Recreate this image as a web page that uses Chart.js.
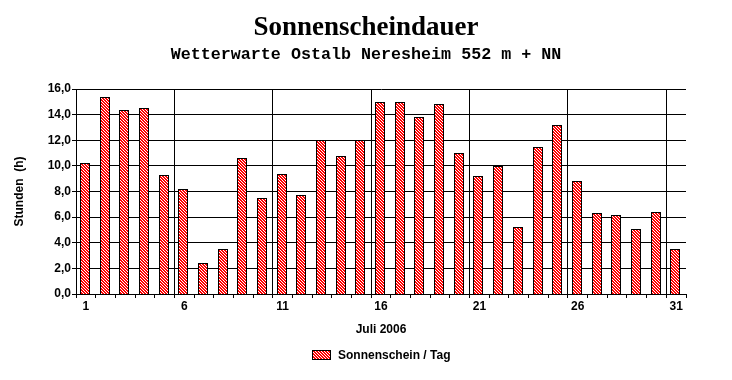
<!DOCTYPE html>
<html>
<head>
<meta charset="utf-8">
<script src="https://cdn.jsdelivr.net/npm/chart.js@4/dist/chart.umd.min.js"></script>
<style>
  html, body { margin: 0; padding: 0; background: #fff; }
  #wrap { width: 732px; height: 380px; }
</style>
</head>
<body>
<div id="wrap"><canvas id="chart" width="732" height="380"></canvas></div>
<script>
// Tage im Juli 2006
const days = ['1','2','3','4','5','6','7','8','9','10','11','12','13','14','15','16',
              '17','18','19','20','21','22','23','24','25','26','27','28','29','30','31'];
// Sonnenscheindauer in Stunden pro Tag
const sunHours = [10.2, 15.4, 14.4, 14.5, 9.3, 8.2, 2.4, 3.5, 10.6, 7.5,
                  9.4, 7.7, 12.0, 10.8, 12.0, 15.0, 15.0, 13.8, 14.8, 11.0,
                  9.2, 10.0, 5.2, 11.5, 13.2, 8.8, 6.3, 6.2, 5.1, 6.4, 3.5];
const yTicks = [0, 2, 4, 6, 8, 10, 12, 14, 16];

const titleText = 'Sonnenscheindauer';
const subtitleText = 'Wetterwarte Ostalb Neresheim 552 m + NN';
const yTitle = 'Stunden  (h)';
const xTitle = 'Juli 2006';
const seriesLabel = 'Sonnenschein / Tag';

// red / white hatch pattern
function makeHatch() {
    const n = 3;
    const c = document.createElement('canvas');
    c.width = n; c.height = n;
    const g = c.getContext('2d');
    const img = g.createImageData(n, n);
    for (let y = 0; y < n; y++) {
        for (let x = 0; x < n; x++) {
            const i = (y * n + x) * 4;
            const white = ((x - y) % n + n) % n === 0;
            img.data[i] = 255;
            img.data[i + 1] = white ? 255 : 0;
            img.data[i + 2] = white ? 255 : 0;
            img.data[i + 3] = 255;
        }
    }
    g.putImageData(img, 0, 0);
    return g.createPattern(c, 'repeat');
}
const hatch = makeHatch();

const FONT = '"Liberation Sans", Arial, sans-serif';
Chart.defaults.font.family = FONT;
Chart.defaults.font.size = 12;
Chart.defaults.font.weight = 'bold';
Chart.defaults.color = '#000';

// snap bars to whole pixels so borders stay crisp
const snapBars = {
    id: 'snapBars',
    afterDatasetsUpdate(chart) {
        chart.getDatasetMeta(0).data.forEach(el => {
            const left = Math.round(el.x - el.width / 2) - 1;
            el.width = 10;
            el.x = left + 5;
            el.y = Math.round(el.y);
            el.base = Math.round(el.base);
        });
    }
};

// titles, axis titles and legend
const decorations = {
    id: 'decorations',
    beforeDraw(chart) {
        const ctx = chart.ctx;
        ctx.save();
        ctx.fillStyle = '#fff';
        ctx.fillRect(0, 0, chart.width, chart.height);
        ctx.restore();
    },
    afterDraw(chart) {
        const ctx = chart.ctx;
        const area = chart.chartArea;
        const cx = (area.left + area.right) / 2;
        ctx.save();
        ctx.fillStyle = '#000';
        ctx.textAlign = 'center';
        ctx.textBaseline = 'middle';

        ctx.font = 'bold 27px "Liberation Serif", "Times New Roman", serif';
        ctx.fillText(titleText, chart.width / 2, 28);

        ctx.font = 'bold 16.7px "Liberation Mono", "Courier New", monospace';
        ctx.fillText(subtitleText, chart.width / 2, 55);

        ctx.font = 'bold 12px ' + FONT;
        ctx.fillText(xTitle, cx, 330);

        ctx.save();
        ctx.translate(20, (area.top + area.bottom) / 2);
        ctx.rotate(-Math.PI / 2);
        ctx.fillText(yTitle, 0, 0);
        ctx.restore();

        // legend
        ctx.font = 'bold 12px ' + FONT;
        const tw = ctx.measureText(seriesLabel).width;
        const boxW = 19, boxH = 10, gap = 7;
        const x0 = Math.round(cx - (boxW + gap + tw) / 2);
        const ly = 355;
        const by = Math.round(ly - boxH / 2);
        ctx.fillStyle = hatch;
        ctx.fillRect(x0, by, boxW, boxH);
        ctx.strokeStyle = '#000';
        ctx.lineWidth = 1;
        ctx.strokeRect(x0 + 0.5, by + 0.5, boxW - 1, boxH - 1);
        ctx.fillStyle = '#000';
        ctx.textAlign = 'left';
        ctx.fillText(seriesLabel, x0 + boxW + gap, ly + 1);
        ctx.restore();
    }
};

new Chart(document.getElementById('chart'), {
    type: 'bar',
    data: {
        labels: days,
        datasets: [{
            label: seriesLabel,
            data: sunHours,
            backgroundColor: hatch,
            hoverBackgroundColor: hatch,
            borderColor: '#000',
            borderWidth: 1,
            borderSkipped: 'bottom',
            categoryPercentage: 1.0,
            barPercentage: 0.5
        }]
    },
    options: {
        responsive: false,
        animation: false,
        devicePixelRatio: 1,
        layout: { padding: { left: 0, right: 46, top: 89, bottom: 0 } },
        plugins: {
            legend: { display: false },
            title: { display: false },
            tooltip: { enabled: false }
        },
        scales: {
            x: {
                offset: true,
                afterFit(scale) { scale.height = 86; },
                grid: {
                    offset: true,
                    drawOnChartArea: true,
                    color: (c) => (c.index !== undefined && c.index > 0 && c.index % 5 === 0) ? '#000' : 'rgba(0,0,0,0)',
                    tickColor: '#000',
                    tickLength: 4,
                    lineWidth: 1
                },
                border: { color: '#000', width: 1 },
                ticks: {
                    autoSkip: false,
                    maxRotation: 0,
                    padding: 1,
                    callback: (v, i) => (i % 5 === 0 ? days[i] : '')
                }
            },
            y: {
                min: 0,
                max: 16,
                afterFit(scale) { scale.width = 76; },
                afterBuildTicks(scale) { scale.ticks = yTicks.map(v => ({ value: v })); },
                grid: { color: '#000', tickColor: '#000', tickLength: 4, lineWidth: 1 },
                border: { color: '#000', width: 1 },
                ticks: {
                    padding: 1,
                    callback: (v) => v.toFixed(1).replace('.', ',')
                }
            }
        }
    },
    plugins: [snapBars, decorations]
});
</script>
</body>
</html>
